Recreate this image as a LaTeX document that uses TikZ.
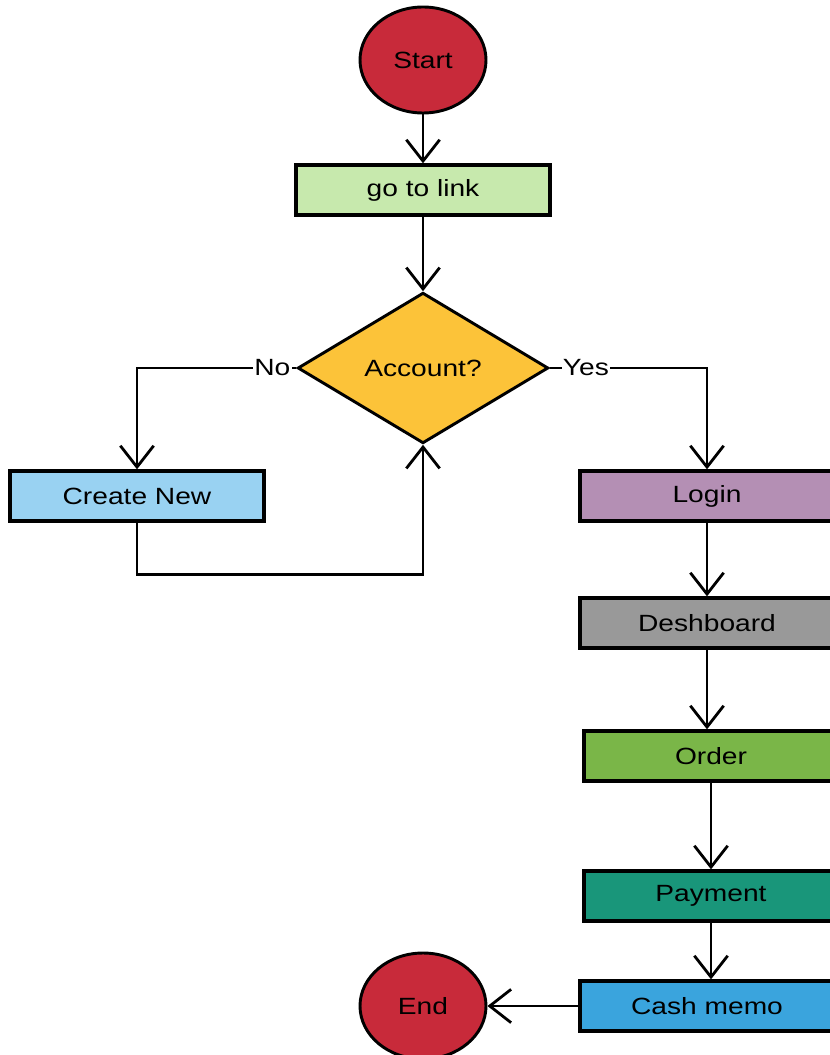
\documentclass[tikz,border=0pt]{standalone}
\usepackage{fontspec}
\setmainfont[FakeStretch=1.2]{Liberation Sans}
\usetikzlibrary{shapes.geometric,arrows.meta}
\definecolor{termred}{RGB}{200, 42, 58}
\definecolor{linkgreen}{RGB}{199, 233, 173}
\definecolor{acctyellow}{RGB}{252, 195, 57}
\definecolor{newblue}{RGB}{153, 210, 242}
\definecolor{loginpurple}{RGB}{180, 143, 180}
\definecolor{dashgray}{RGB}{153, 153, 153}
\definecolor{ordergreen}{RGB}{122, 182, 72}
\definecolor{payteal}{RGB}{25, 150, 122}
\definecolor{cashblue}{RGB}{58, 164, 221}
\begin{document}
\begin{tikzpicture}[x=0.75pt, y=-0.75pt,
    every node/.style={font=\fontsize{17.6}{20}\selectfont},
    term/.style={ellipse, draw, line width=2.2pt, fill=termred, minimum width=94.5pt, minimum height=79.5pt, inner sep=0pt},
    stepbox/.style={rectangle, draw, line width=2.5pt, minimum width=190.5pt, minimum height=37.5pt, inner sep=0pt},
    check/.style={diamond, draw, line width=2.2pt, fill=acctyellow, aspect=1.66, minimum width=188pt, minimum height=113pt, inner sep=0pt},
    flow/.style={line width=2.1pt, -{Straight Barb[length=16pt,width=25pt]}},
    lbl/.style={fill=white, inner sep=1pt}]
    % Frame to fix the page size
    \useasboundingbox (0, 0) rectangle (830, 1055);
    % Start and go to link
    \node[term]                   (start) at (423,   60) {Start};
    \node[stepbox, fill=linkgreen] (link)  at (423,  190) {go to link};
    % Decision
    \node[check]                  (acct)  at (423,  368) {Account?};
    % Left branch
    \node[stepbox, fill=newblue]   (new)   at (137,  496) {Create New};
    % Right column
    \node[stepbox, fill=loginpurple] (login) at (707,  496) {Login};
    \node[stepbox, fill=dashgray]  (dash)  at (707,  623) {Deshboard};
    \node[stepbox, fill=ordergreen] (order) at (711,  756) {Order};
    \node[stepbox, fill=payteal]   (pay)   at (711,  896) {Payment};
    \node[stepbox, fill=cashblue]  (cash)  at (707, 1006) {Cash memo};
    \node[term]                   (end)   at (423, 1006) {End};
    % Connectors
    \draw[flow] (start) -- (link);
    \draw[flow] (link) -- (acct);
    \draw[flow] (acct.west) -- node[lbl, pos=0.15] {No} (acct.west -| new) -- (new);
    \draw[flow] (acct.east) -- node[lbl, pos=0.23] {Yes} (acct.east -| login) -- (login);
    \draw[flow] (new.south) -- ++(0, 52) -| (acct.south);
    \draw[flow] (login) -- (dash);
    \draw[flow] (dash.south) -- (dash.south |- order.north);
    \draw[flow] (order) -- (pay);
    \draw[flow] (pay.south) -- (pay.south |- cash.north);
    \draw[flow] (cash) -- (end);
\end{tikzpicture}
\end{document}
